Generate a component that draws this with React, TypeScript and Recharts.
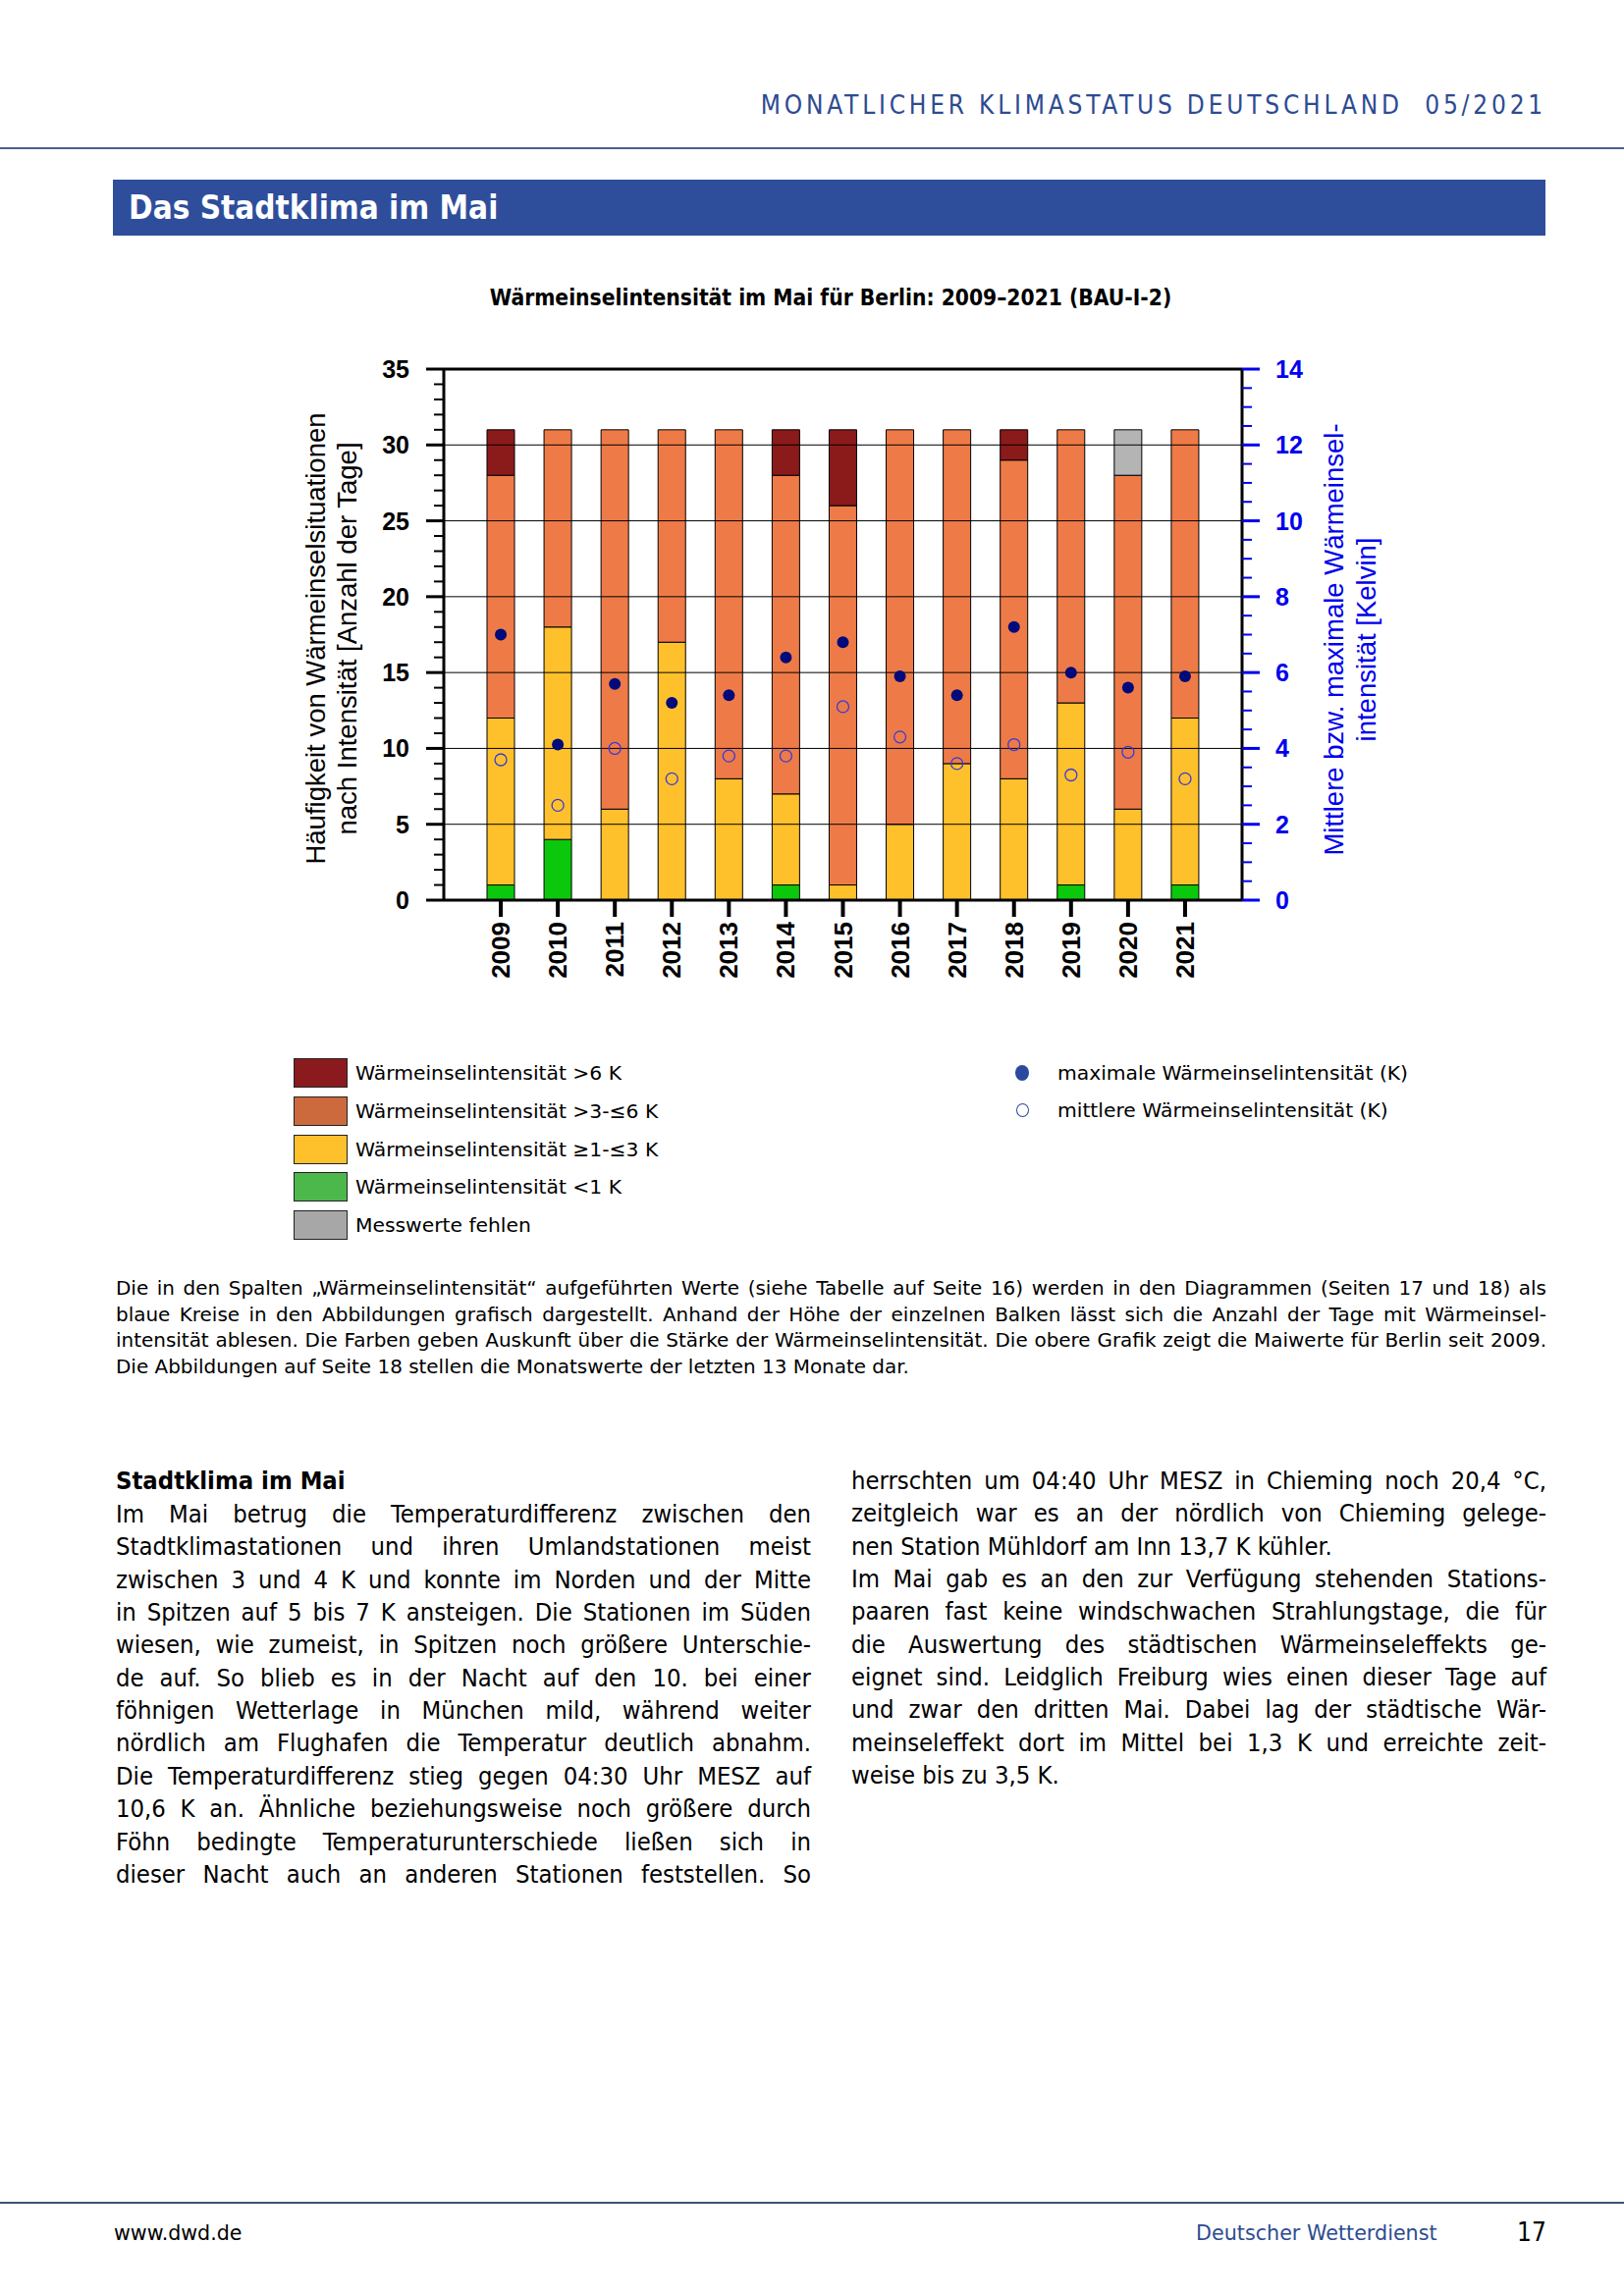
import React from 'react';
import { ComposedChart, Bar, Line, XAxis, YAxis, ReferenceLine } from 'recharts';

// Wärmeinselintensität im Mai, Berlin (BAU-I-2)
const years = ['2009', '2010', '2011', '2012', '2013', '2014', '2015', '2016', '2017', '2018', '2019', '2020', '2021'];
const daysBelow1K = [1, 4, 0, 0, 0, 1, 0, 0, 0, 0, 1, 0, 1];
const days1to3K = [11, 14, 6, 17, 8, 6, 1, 5, 9, 8, 12, 6, 11];
const days3to6K = [16, 13, 25, 14, 23, 21, 25, 26, 22, 21, 18, 22, 19];
const daysAbove6K = [3, 0, 0, 0, 0, 3, 5, 0, 0, 2, 0, 0, 0];
const daysMissing = [0, 0, 0, 0, 0, 0, 0, 0, 0, 0, 0, 3, 0];
const maxIntensity = [7.0, 4.1, 5.7, 5.2, 5.4, 6.4, 6.8, 5.9, 5.4, 7.2, 6.0, 5.6, 5.9];
const meanIntensity = [3.7, 2.5, 4.0, 3.2, 3.8, 3.8, 5.1, 4.3, 3.6, 4.1, 3.3, 3.9, 3.2];

const dayTicks = Array.from({ length: 36 }, (_, i) => i);
const kelvinTicks = Array.from({ length: 29 }, (_, i) => i / 2);
const gridDays = [5, 10, 15, 20, 25, 30];

const data = years.map((year, i) => ({
  year,
  green: daysBelow1K[i],
  yellow: days1to3K[i],
  orange: days3to6K[i],
  red: daysAbove6K[i],
  grey: daysMissing[i],
  max: maxIntensity[i],
  mean: meanIntensity[i],
}));

const ARIAL = "'Liberation Sans', Arial, sans-serif";
const COND_FONT = "'DejaVu Sans Condensed', 'DejaVu Sans', sans-serif";
const REG_FONT = "'DejaVu Sans', sans-serif";
const DWD_BLUE = '#2d4b91';
const AXIS_BLUE = '#0000ee';

const LeftTick = (props: any) => {
  const { x, y, payload } = props;
  const major = payload.value % 5 === 0;
  return (
    <g>
      <line x1={x} x2={x - (major ? 18 : 10)} y1={y} y2={y} stroke="#000" strokeWidth={major ? 3 : 2} />
      {major && (
        <text x={x - 35} y={y} textAnchor="end" dominantBaseline="central" fontFamily={ARIAL} fontWeight="bold" fontSize={25} fill="#000">
          {payload.value}
        </text>
      )}
    </g>
  );
};

const RightTick = (props: any) => {
  const { x, y, payload } = props;
  const major = payload.value % 2 === 0;
  return (
    <g>
      <line x1={x} x2={x + (major ? 18 : 10)} y1={y} y2={y} stroke={AXIS_BLUE} strokeWidth={major ? 3 : 2} />
      {major && (
        <text x={x + 34} y={y} textAnchor="start" dominantBaseline="central" fontFamily={ARIAL} fontWeight="bold" fontSize={25} fill={AXIS_BLUE}>
          {payload.value}
        </text>
      )}
    </g>
  );
};

const YearTick = (props: any) => {
  const { x, y, payload } = props;
  return (
    <g>
      <line x1={x} x2={x} y1={y} y2={y + 17} stroke="#000" strokeWidth={4} />
      <text
        transform={`translate(${x},${y + 22}) rotate(-90)`}
        textAnchor="end"
        dominantBaseline="central"
        fontFamily={ARIAL}
        fontWeight="bold"
        fontSize={26}
        fill="#000"
      >
        {payload.value}
      </text>
    </g>
  );
};

const LeftAxisLabel = (props: any) => {
  const { viewBox } = props;
  const cy = viewBox.y + viewBox.height / 2 + 4;
  const lines = ['Häufigkeit von Wärmeinselsituationen', 'nach Intensität [Anzahl der Tage]'];
  return (
    <g>
      {lines.map((t, i) => {
        const cx = viewBox.x - 31 + i * 32;
        return (
          <text key={t} transform={`translate(${cx},${cy}) rotate(-90)`} textAnchor="middle" dominantBaseline="central" fontFamily={ARIAL} fontSize={27.5} fill="#000">
            {t}
          </text>
        );
      })}
    </g>
  );
};

const RightAxisLabel = (props: any) => {
  const { viewBox } = props;
  const cy = viewBox.y + viewBox.height / 2 + 5;
  const lines = ['Mittlere bzw. maximale Wärmeinsel-', 'intensität [Kelvin]'];
  return (
    <g>
      {lines.map((t, i) => {
        const cx = viewBox.x + 93 + i * 33;
        return (
          <text key={t} transform={`translate(${cx},${cy}) rotate(-90)`} textAnchor="middle" dominantBaseline="central" fontFamily={ARIAL} fontSize={27.5} fill={AXIS_BLUE}>
            {t}
          </text>
        );
      })}
    </g>
  );
};

const MaxDot = (p: any) => <circle key={`max-${p.index}`} cx={p.cx} cy={p.cy} r={6} fill="#000a7a" />;
const MeanDot = (p: any) => <circle key={`mean-${p.index}`} cx={p.cx} cy={p.cy} r={6} fill="none" stroke="#3a3ad6" strokeWidth={1.3} />;

const TextLine = ({ top, left, width, text, size, justify, bold, color, font }: any) => (
  <div
    style={{
      position: 'absolute',
      top,
      left,
      width,
      height: size * 1.3,
      lineHeight: `${size * 1.3}px`,
      fontSize: size,
      fontFamily: font === 'reg' ? REG_FONT : COND_FONT,
      fontStretch: font === 'reg' ? 'normal' : 'condensed',
      fontWeight: bold ? 'bold' : 'normal',
      color: color || '#000',
      whiteSpace: 'nowrap',
      textAlign: justify ? 'justify' : 'left',
      textAlignLast: justify ? 'justify' : 'left',
    } as any}
  >
    {text}
  </div>
);

const captionLines = [
  'Die in den Spalten „Wärmeinselintensität“ aufgeführten Werte (siehe Tabelle auf Seite 16) werden in den Diagrammen (Seiten 17 und 18) als',
  'blaue Kreise in den Abbildungen grafisch dargestellt. Anhand der Höhe der einzelnen Balken lässt sich die Anzahl der Tage mit Wärmeinsel-',
  'intensität ablesen. Die Farben geben Auskunft über die Stärke der Wärmeinselintensität. Die obere Grafik zeigt die Maiwerte für Berlin seit 2009.',
  'Die Abbildungen auf Seite 18 stellen die Monatswerte der letzten 13 Monate dar.',
];

const leftColumn = [
  'Im Mai betrug die Temperaturdifferenz zwischen den',
  'Stadtklimastationen und ihren Umlandstationen meist',
  'zwischen 3 und 4 K und konnte im Norden und der Mitte',
  'in Spitzen auf 5 bis 7 K ansteigen. Die Stationen im Süden',
  'wiesen, wie zumeist, in Spitzen noch größere Unterschie-',
  'de auf. So blieb es in der Nacht auf den 10. bei einer',
  'föhnigen Wetterlage in München mild, während weiter',
  'nördlich am Flughafen die Temperatur deutlich abnahm.',
  'Die Temperaturdifferenz stieg gegen 04:30 Uhr MESZ auf',
  '10,6 K an. Ähnliche beziehungsweise noch größere durch',
  'Föhn bedingte Temperaturunterschiede ließen sich in',
  'dieser Nacht auch an anderen Stationen feststellen. So',
];

const rightColumn: [string, boolean][] = [
  ['herrschten um 04:40 Uhr MESZ in Chieming noch 20,4 °C,', true],
  ['zeitgleich war es an der nördlich von Chieming gelege-', true],
  ['nen Station Mühldorf am Inn 13,7 K kühler.', false],
  ['Im Mai gab es an den zur Verfügung stehenden Stations-', true],
  ['paaren fast keine windschwachen Strahlungstage, die für', true],
  ['die Auswertung des städtischen Wärmeinseleffekts ge-', true],
  ['eignet sind. Leidglich Freiburg wies einen dieser Tage auf', true],
  ['und zwar den dritten Mai. Dabei lag der städtische Wär-', true],
  ['meinseleffekt dort im Mittel bei 1,3 K und erreichte zeit-', true],
  ['weise bis zu 3,5 K.', false],
];

const legendBars = [
  { label: 'Wärmeinselintensität >6 K', color: '#8b1a1e' },
  { label: 'Wärmeinselintensität >3-≤6 K', color: '#cd6a3d' },
  { label: 'Wärmeinselintensität ≥1-≤3 K', color: '#ffc12b' },
  { label: 'Wärmeinselintensität <1 K', color: '#4cb84c' },
  { label: 'Messwerte fehlen', color: '#a7a7a7' },
];

export default function App() {
  const bodySize = 25.4;
  const bodyLH = 33.35;
  return (
    <div style={{ position: 'absolute', left: 0, top: 0, width: 1654, height: 2339, background: '#fff', overflow: 'hidden' }}>
      {/* header */}
      <div
        style={{
          position: 'absolute',
          right: 79,
          top: 92,
          lineHeight: '30px',
          fontSize: 26,
          fontFamily: COND_FONT,
          fontStretch: 'condensed',
          letterSpacing: 3.8,
          color: DWD_BLUE,
          whiteSpace: 'nowrap',
        } as any}
      >
        MONATLICHER KLIMASTATUS DEUTSCHLAND&nbsp;&nbsp;05/2021
      </div>
      <div style={{ position: 'absolute', left: 0, top: 150, width: 1654, height: 2, background: '#4d5f8a' }} />
      <div
        style={{
          position: 'absolute',
          left: 115,
          top: 183,
          width: 1459,
          height: 57,
          background: '#2e4e9b',
          color: '#fff',
          fontFamily: COND_FONT,
          fontStretch: 'condensed',
          fontWeight: 'bold',
          fontSize: 33,
          lineHeight: '57px',
          paddingLeft: 16,
          boxSizing: 'border-box',
        } as any}
      >
        Das Stadtklima im Mai
      </div>

      {/* chart title */}
      <div
        style={{
          position: 'absolute',
          left: 346,
          top: 289,
          width: 1000,
          textAlign: 'center',
          fontFamily: COND_FONT,
          fontStretch: 'condensed',
          fontWeight: 'bold',
          fontSize: 22.6,
          lineHeight: '28px',
        } as any}
      >
        Wärmeinselintensität im Mai für Berlin: 2009–2021 (BAU-I-2)
      </div>

      <div style={{ position: 'absolute', left: 0, top: 330 }}>
        <ComposedChart width={1654} height={700} data={data} margin={{ top: 46, right: 289, bottom: 13, left: 352 }}>
          <XAxis
            dataKey="year"
            xAxisId="x"
            padding={{ left: 29, right: 29 }}
            interval={0}
            tickLine={false}
            tickSize={0}
            tickMargin={0}
            tick={<YearTick />}
            axisLine={{ stroke: '#000', strokeWidth: 3 }}
            height={100}
          />
          <YAxis
            yAxisId="left"
            orientation="left"
            domain={[0, 35]}
            ticks={dayTicks}
            interval={0}
            width={100}
            tickLine={false}
            tickSize={0}
            tickMargin={0}
            tick={<LeftTick />}
            axisLine={{ stroke: '#000', strokeWidth: 3 }}
            label={<LeftAxisLabel />}
          />
          <YAxis
            yAxisId="right"
            orientation="right"
            domain={[0, 14]}
            ticks={kelvinTicks}
            interval={0}
            width={100}
            tickLine={false}
            tickSize={0}
            tickMargin={0}
            tick={<RightTick />}
            axisLine={{ stroke: '#000', strokeWidth: 3 }}
            label={<RightAxisLabel />}
          />
          <Bar xAxisId="x" yAxisId="left" dataKey="green" stackId="d" fill="#0cc80c" stroke="#000" strokeWidth={1} barSize={28} isAnimationActive={false} />
          <Bar xAxisId="x" yAxisId="left" dataKey="yellow" stackId="d" fill="#ffc12b" stroke="#000" strokeWidth={1} barSize={28} isAnimationActive={false} />
          <Bar xAxisId="x" yAxisId="left" dataKey="orange" stackId="d" fill="#ee7b47" stroke="#000" strokeWidth={1} barSize={28} isAnimationActive={false} />
          <Bar xAxisId="x" yAxisId="left" dataKey="red" stackId="d" fill="#8b1a1a" stroke="#000" strokeWidth={1} barSize={28} isAnimationActive={false} />
          <Bar xAxisId="x" yAxisId="left" dataKey="grey" stackId="d" fill="#b4b4b4" stroke="#000" strokeWidth={1} barSize={28} isAnimationActive={false} />
          {gridDays.map((d) => (
            <ReferenceLine key={d} xAxisId="x" yAxisId="left" y={d} stroke="#000" strokeWidth={1} />
          ))}
          <ReferenceLine xAxisId="x" yAxisId="left" y={35} stroke="#000" strokeWidth={3} />
          <Line xAxisId="x" yAxisId="right" dataKey="max" stroke="none" dot={MaxDot} activeDot={false} isAnimationActive={false} />
          <Line xAxisId="x" yAxisId="right" dataKey="mean" stroke="none" dot={MeanDot} activeDot={false} isAnimationActive={false} />
        </ComposedChart>
      </div>

      {/* legend */}
      {legendBars.map((l, i) => {
        const cy = 1093 + i * 38.8;
        return (
          <React.Fragment key={l.label}>
            <div style={{ position: 'absolute', left: 299, top: cy - 15, width: 55, height: 30, background: l.color, border: '1.5px solid #222', boxSizing: 'border-box' }} />
            <TextLine top={cy - 13} left={362} text={l.label} size={20.3} font="reg" />
          </React.Fragment>
        );
      })}
      <div style={{ position: 'absolute', left: 1034, top: 1085, width: 14, height: 16, borderRadius: '50%', background: '#2a4a9c' }} />
      <TextLine top={1080} left={1077} text="maximale Wärmeinselintensität (K)" size={20.3} font="reg" />
      <div style={{ position: 'absolute', left: 1035, top: 1124, width: 13, height: 14, borderRadius: '50%', border: '1.3px solid #2a4a9c', boxSizing: 'border-box' }} />
      <TextLine top={1118} left={1077} text="mittlere Wärmeinselintensität (K)" size={20.3} font="reg" />

      {/* caption */}
      {captionLines.map((t, i) => (
        <TextLine key={i} top={1313 + i * 26.5 - 13} left={118} width={1457} text={t} size={19.95} font="reg" justify={i < captionLines.length - 1} />
      ))}

      {/* body text */}
      <TextLine top={1508 - 16} left={118} width={708} text="Stadtklima im Mai" size={bodySize} bold />
      {leftColumn.map((t, i) => (
        <TextLine key={i} top={1542 + i * bodyLH - 16} left={118} width={708} text={t} size={bodySize} justify />
      ))}
      {rightColumn.map(([t, j], i) => (
        <TextLine key={i} top={1508 + i * bodyLH - 16} left={867} width={708} text={t} size={bodySize} justify={j} />
      ))}

      {/* footer */}
      <div style={{ position: 'absolute', left: 0, top: 2243, width: 1654, height: 2, background: '#3f5079' }} />
      <TextLine top={2262} left={116} text="www.dwd.de" size={20.6} font="reg" />
      <TextLine top={2262} left={1218} text="Deutscher Wetterdienst" size={20.7} font="reg" color={DWD_BLUE} />
      <TextLine top={2258} left={1545} text="17" size={26} />
    </div>
  );
}
